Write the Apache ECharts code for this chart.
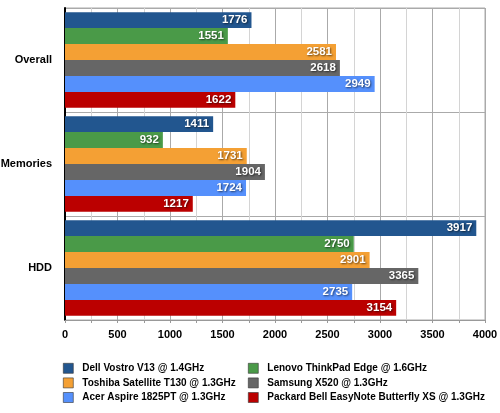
<!DOCTYPE html>
<html><head><meta charset="utf-8">
<script src="https://cdn.jsdelivr.net/npm/echarts@6/dist/echarts.min.js"></script>
<style>html,body{margin:0;padding:0;background:#fff}#c{width:500px;height:413px}</style>
</head><body><div id="c"></div>
<script>
const categories = ['Overall', 'Memories', 'HDD'];
const seriesNames = ['Dell Vostro V13 @ 1.4GHz', 'Lenovo ThinkPad Edge @ 1.6GHz', 'Toshiba Satellite T130 @ 1.3GHz', 'Samsung X520 @ 1.3GHz', 'Acer Aspire 1825PT @ 1.3GHz', 'Packard Bell EasyNote Butterfly XS @ 1.3GHz'];
const dell = [1776, 1411, 3917];
const lenovo = [1551, 932, 2750];
const toshiba = [2581, 1731, 2901];
const samsung = [2618, 1904, 3365];
const acer = [2949, 1724, 2735];
const packard = [1622, 1217, 3154];
const colors = ['#22568f', '#4a9a48', '#f4a034', '#666666', '#5590fc', '#bb0000'];
const xTicks = [0, 500, 1000, 1500, 2000, 2500, 3000, 3500, 4000];

const values = [dell, lenovo, toshiba, samsung, acer, packard];
const regular = 'Arial, "Liberation Sans", sans-serif';
const chart = echarts.init(document.getElementById('c'));
const legendCommon = {
  orient: 'vertical', top: 363, height: 50, padding: 0, itemWidth: 10, itemHeight: 10, itemGap: 4, icon: 'rect',
  textStyle: { color: '#000', fontWeight: 'bold', fontSize: 10, fontFamily: regular, padding: [0, 0, 0, 4] },
  itemStyle: { borderColor: '#333', borderWidth: 0.6 }
};
chart.setOption({
  animation: false,
  backgroundColor: '#fff',
  color: colors,
  grid: { left: 65, right: 15, top: 8, bottom: 93, containLabel: false, outerBoundsMode: 'none',
    show: true, borderColor: '#aaaaaa', borderWidth: 1 },
  xAxis: {
    type: 'value', min: xTicks[0], max: xTicks[xTicks.length - 1], interval: 250,
    axisLine: { show: true, lineStyle: { color: '#999', width: 1 } },
    axisTick: { show: true, length: 3, lineStyle: { color: '#999' } },
    axisLabel: { color: '#000', fontWeight: 'bold', fontSize: 11, fontFamily: regular, margin: 9,
      formatter: v => (xTicks.indexOf(v) >= 0 ? String(v) : '') },
    splitLine: { show: true, lineStyle: { color: ['#aaaaaa', '#d4d4d4'] } }
  },
  yAxis: {
    type: 'category', data: categories, inverse: true,
    axisLine: { show: true, lineStyle: { color: '#000', width: 2 } },
    axisTick: { show: false },
    axisLabel: { color: '#000', fontWeight: 'bold', fontSize: 11, fontFamily: regular, margin: 13 },
    splitLine: { show: true, lineStyle: { color: '#aaaaaa' } }
  },
  legend: [
    Object.assign({ left: 63, data: [seriesNames[0], seriesNames[2], seriesNames[4]] }, legendCommon),
    Object.assign({ left: 248, data: [seriesNames[1], seriesNames[3], seriesNames[5]] }, legendCommon)
  ],
  series: seriesNames.map((n, i) => ({
    name: n, type: 'bar', data: values[i], barGap: 0, barCategoryGap: '8%',
    itemStyle: { color: colors[i] },
    label: { show: true, position: 'insideRight', distance: 4, color: '#fff', fontWeight: 'bold', fontSize: 11.5,
      fontFamily: regular, textShadowColor: 'rgba(0,0,0,0.6)', textShadowBlur: 2, textShadowOffsetX: 1, textShadowOffsetY: 1 }
  }))
});
</script></body></html>
